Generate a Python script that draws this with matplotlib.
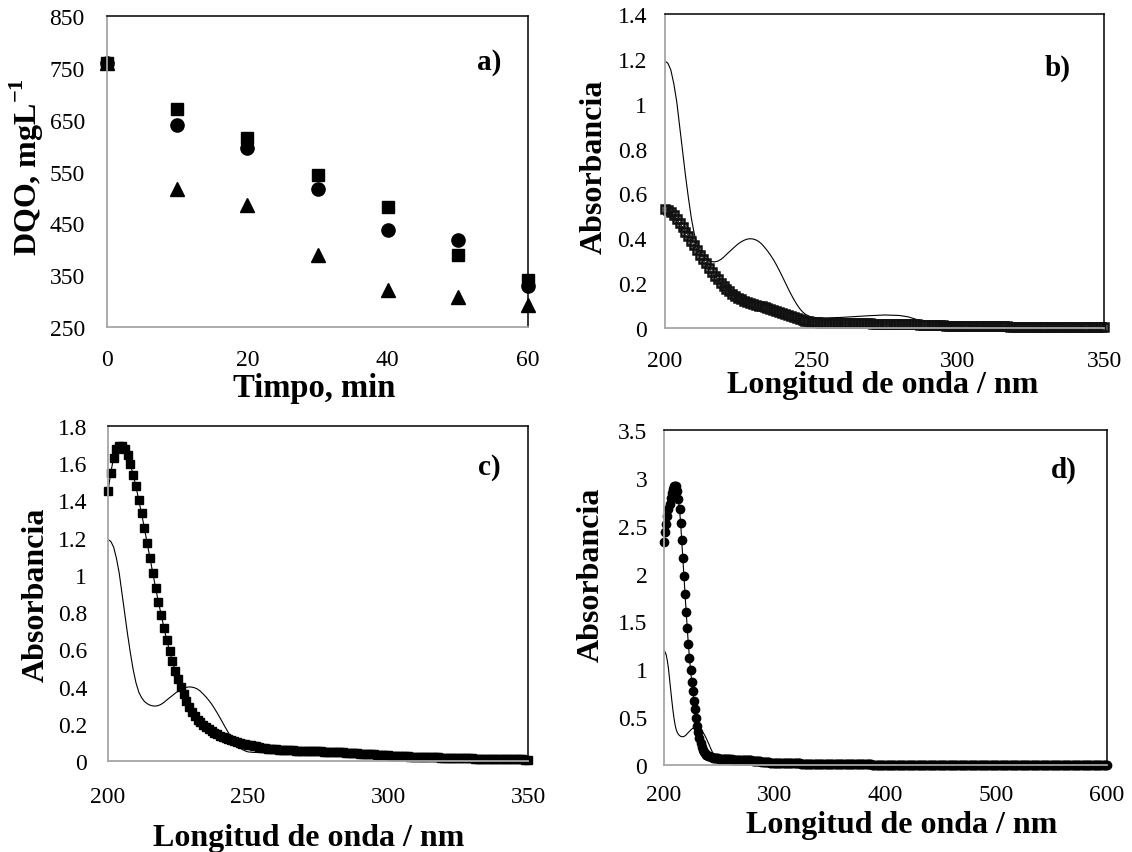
import numpy as np
import matplotlib.pyplot as plt

plt.rcParams['font.family'] = ['Liberation Serif', 'DejaVu Serif']
plt.rcParams['mathtext.fontset'] = 'custom'
plt.rcParams['mathtext.rm'] = 'Liberation Serif'
plt.rcParams['mathtext.bf'] = 'Liberation Serif:bold'

W, H = 1132, 853

# a) DQO frente al tiempo
tiempo = [0, 10, 20, 30, 40, 50, 60]
dqo_cuadrados = [760, 670, 614, 543, 481, 389, 340]
dqo_circulos = [760, 640, 595, 516, 437, 418, 329]
dqo_triangulos = [760, 516, 485, 389, 321, 308, 292]

# espectro inicial (linea fina, igual en b, c y d)
ref_nm = list(range(200, 251)) + [252, 255, 260, 265, 270, 275, 280, 283, 286,
                                  290, 295, 300, 310, 320, 330, 340, 350]
ref_abs = [1.19, 1.18, 1.15, 1.09, 1.01, 0.90, 0.79, 0.68, 0.58, 0.49,
           0.42, 0.37, 0.34, 0.32, 0.308, 0.30, 0.296, 0.295, 0.298, 0.305,
           0.315, 0.328, 0.34, 0.352, 0.364, 0.375, 0.384, 0.391, 0.396, 0.398,
           0.397, 0.393, 0.386, 0.375, 0.36, 0.344, 0.326, 0.306, 0.283, 0.258,
           0.232, 0.205, 0.178, 0.152, 0.128, 0.106, 0.087, 0.072, 0.061, 0.054,
           0.049,
           0.046, 0.045, 0.047, 0.051, 0.055, 0.058, 0.056, 0.05, 0.038,
           0.026, 0.018, 0.014, 0.01, 0.008, 0.006, 0.005, 0.004]

# b) cuadros abiertos, 200-350 nm
nm_bc = np.arange(200, 351)
abs_b = [0.53, 0.525, 0.516, 0.502, 0.486, 0.468, 0.449, 0.43, 0.41, 0.389,
         0.368, 0.347, 0.327, 0.308, 0.288, 0.268, 0.25, 0.233, 0.217, 0.202,
         0.188, 0.175, 0.163, 0.152, 0.143, 0.135, 0.128, 0.122, 0.117, 0.112,
         0.108, 0.104, 0.1, 0.097, 0.093, 0.089, 0.085, 0.081, 0.077, 0.072,
         0.067, 0.062, 0.057, 0.052, 0.047, 0.043, 0.039, 0.035, 0.032, 0.029,
         0.027, 0.026, 0.025, 0.024, 0.024, 0.023, 0.023, 0.023, 0.022, 0.022,
         0.022, 0.022, 0.022, 0.022, 0.021, 0.021, 0.021, 0.021, 0.021, 0.021,
         0.021, 0.02, 0.02, 0.02, 0.02, 0.02, 0.02, 0.019, 0.019, 0.019,
         0.019, 0.018, 0.018, 0.017, 0.017, 0.016, 0.016, 0.015, 0.015, 0.014,
         0.014, 0.013, 0.013, 0.012, 0.012, 0.012, 0.011, 0.011, 0.011, 0.01,
         0.01, 0.01, 0.01, 0.009, 0.009, 0.009, 0.009, 0.008, 0.008, 0.008,
         0.008, 0.008, 0.007, 0.007, 0.007, 0.007, 0.007, 0.007, 0.006, 0.006,
         0.006, 0.006, 0.006, 0.006, 0.006, 0.005, 0.005, 0.005, 0.005, 0.005,
         0.005, 0.005, 0.005, 0.005, 0.005, 0.004, 0.004, 0.004, 0.004, 0.004,
         0.004, 0.004, 0.004, 0.004, 0.004, 0.004, 0.004, 0.004, 0.004, 0.004,
         0.004]

# c) cuadros llenos, 200-350 nm
abs_c = [1.45, 1.55, 1.63, 1.675, 1.69, 1.69, 1.675, 1.645, 1.595, 1.535,
         1.475, 1.40, 1.33, 1.25, 1.17, 1.09, 1.01, 0.93, 0.855, 0.785,
         0.715, 0.65, 0.59, 0.535, 0.485, 0.44, 0.40, 0.36, 0.325, 0.292,
         0.263, 0.24, 0.222, 0.207, 0.193, 0.181, 0.17, 0.16, 0.151, 0.143,
         0.136, 0.129, 0.123, 0.117, 0.112, 0.107, 0.102, 0.098, 0.094, 0.09,
         0.087, 0.084, 0.081, 0.078, 0.075, 0.072, 0.07, 0.067, 0.065, 0.063,
         0.062, 0.061, 0.06, 0.059, 0.058, 0.058, 0.057, 0.056, 0.056, 0.055,
         0.055, 0.054, 0.054, 0.053, 0.053, 0.052, 0.052, 0.051, 0.051, 0.05,
         0.05, 0.049, 0.048, 0.047, 0.046, 0.045, 0.044, 0.043, 0.042, 0.041,
         0.04, 0.039, 0.038, 0.037, 0.036, 0.035, 0.034, 0.033, 0.032, 0.031,
         0.03, 0.029, 0.029, 0.028, 0.027, 0.026, 0.026, 0.025, 0.024, 0.024,
         0.023, 0.022, 0.022, 0.021, 0.021, 0.02, 0.02, 0.019, 0.019, 0.018,
         0.018, 0.017, 0.017, 0.016, 0.016, 0.016, 0.015, 0.015, 0.014, 0.014,
         0.014, 0.013, 0.013, 0.013, 0.012, 0.012, 0.012, 0.011, 0.011, 0.011,
         0.011, 0.01, 0.01, 0.01, 0.01, 0.009, 0.009, 0.009, 0.009, 0.008,
         0.008]

# d) circulos, 200-600 nm
nm_d = np.arange(200, 601)
abs_d = [2.33, 2.43, 2.52, 2.6, 2.67, 2.73, 2.79, 2.84, 2.88, 2.91,
         2.92, 2.91, 2.86, 2.78, 2.67, 2.53, 2.35, 2.16, 1.97, 1.79,
         1.6, 1.43, 1.26, 1.12, 0.99, 0.87, 0.77, 0.67, 0.58, 0.49,
         0.41, 0.34, 0.28, 0.23, 0.19, 0.16, 0.138, 0.121, 0.109, 0.101,
         0.095, 0.089, 0.084, 0.08, 0.077, 0.075, 0.073, 0.071, 0.069, 0.068,
         0.067, 0.066, 0.065, 0.064, 0.063, 0.062, 0.061, 0.06, 0.06, 0.059,
         0.058, 0.058, 0.057, 0.057, 0.056, 0.056, 0.055, 0.055, 0.054, 0.054,
         0.053, 0.053, 0.052, 0.052, 0.051, 0.051, 0.05, 0.05, 0.049, 0.048,
         0.047, 0.046, 0.045, 0.043, 0.042, 0.04, 0.039, 0.037, 0.036, 0.034,
         0.033, 0.031, 0.03, 0.029, 0.028, 0.027, 0.026, 0.025, 0.024, 0.023,
         0.022, 0.022, 0.021, 0.021, 0.02, 0.02, 0.02, 0.019, 0.019, 0.019,
         0.018, 0.018, 0.018, 0.018, 0.017, 0.017, 0.017, 0.017, 0.016, 0.016,
         0.016, 0.016, 0.016, 0.016, 0.015, 0.015, 0.015, 0.015, 0.015, 0.015,
         0.015, 0.015, 0.014, 0.014, 0.014, 0.014, 0.014, 0.014, 0.014, 0.014,
         0.014, 0.014, 0.013, 0.013, 0.013, 0.013, 0.013, 0.013, 0.013, 0.013,
         0.013, 0.013, 0.012, 0.012, 0.012, 0.012, 0.012, 0.012, 0.012, 0.012,
         0.012, 0.012, 0.012, 0.012, 0.012, 0.012, 0.012, 0.012, 0.012, 0.012,
         0.011, 0.011, 0.011, 0.011, 0.011, 0.011, 0.011, 0.011, 0.011, 0.011,
         0.01, 0.01, 0.01, 0.009, 0.008, 0.007, 0.006, 0.006, 0.005, 0.005,
         0.005, 0.005, 0.005, 0.005, 0.005, 0.005, 0.005, 0.005, 0.005, 0.005,
         0.005, 0.005, 0.005, 0.005, 0.005, 0.005, 0.005, 0.005, 0.005, 0.005,
         0.005, 0.005, 0.005, 0.005, 0.005, 0.005, 0.005, 0.005, 0.005, 0.005,
         0.005, 0.005, 0.005, 0.005, 0.005, 0.005, 0.005, 0.005, 0.005, 0.005,
         0.005, 0.005, 0.005, 0.005, 0.005, 0.005, 0.005, 0.005, 0.005, 0.005,
         0.005, 0.005, 0.005, 0.005, 0.005, 0.005, 0.005, 0.005, 0.005, 0.005,
         0.005, 0.005, 0.005, 0.005, 0.005, 0.005, 0.005, 0.005, 0.005, 0.005,
         0.005, 0.005, 0.005, 0.005, 0.005, 0.005, 0.005, 0.005, 0.005, 0.005,
         0.005, 0.005, 0.005, 0.005, 0.005, 0.005, 0.005, 0.005, 0.005, 0.005,
         0.004, 0.004, 0.004, 0.004, 0.004, 0.004, 0.004, 0.004, 0.004, 0.004,
         0.004, 0.004, 0.004, 0.004, 0.004, 0.004, 0.004, 0.004, 0.004, 0.004,
         0.004, 0.004, 0.004, 0.004, 0.004, 0.004, 0.004, 0.004, 0.004, 0.004,
         0.004, 0.004, 0.004, 0.004, 0.004, 0.004, 0.004, 0.004, 0.004, 0.004,
         0.004, 0.004, 0.004, 0.004, 0.004, 0.004, 0.004, 0.004, 0.004, 0.004,
         0.004, 0.004, 0.004, 0.004, 0.004, 0.004, 0.004, 0.004, 0.004, 0.004,
         0.004, 0.004, 0.004, 0.004, 0.004, 0.004, 0.004, 0.004, 0.004, 0.004,
         0.004, 0.004, 0.004, 0.004, 0.004, 0.004, 0.004, 0.004, 0.004, 0.004,
         0.004, 0.004, 0.004, 0.004, 0.004, 0.004, 0.004, 0.004, 0.004, 0.004,
         0.004, 0.004, 0.004, 0.004, 0.004, 0.004, 0.004, 0.004, 0.004, 0.004,
         0.004, 0.004, 0.004, 0.004, 0.004, 0.004, 0.004, 0.004, 0.004, 0.004,
         0.004, 0.004, 0.004, 0.004, 0.004, 0.004, 0.004, 0.004, 0.004, 0.004,
         0.004]

fig = plt.figure(figsize=(W / 100, H / 100), dpi=100)


def caja(left, top, right, bottom):
    # ejes en pixeles -> fraccion de figura
    return fig.add_axes([left / W, 1 - bottom / H, (right - left) / W, (bottom - top) / H])


def estilo(ax, xpad, ypad):
    for s in ['left', 'bottom']:
        ax.spines[s].set_color('#a6a6a6')
        ax.spines[s].set_linewidth(1.3)
    for s in ['top', 'right']:
        ax.spines[s].set_color('black')
        ax.spines[s].set_linewidth(1.1)
    ax.tick_params(axis='both', length=0, labelsize=17)
    ax.tick_params(axis='x', pad=xpad)
    ax.tick_params(axis='y', pad=ypad)


def texto(x, y, s, va='center', **kw):
    fig.text(x / W, 1 - y / H, s, ha='center', va=va, fontweight='bold', **kw)


def fmt(v):
    return ('%g' % v)


ax_a = caja(107, 17, 528, 328)
ax_b = caja(665, 15, 1104, 329)
ax_c = caja(108, 427, 528, 762)
ax_d = caja(664, 431, 1107, 766)

# a)
ax_a.plot(tiempo, dqo_triangulos, '^', color='black', ms=9.5, clip_on=False)
ax_a.plot(tiempo, dqo_circulos, 'o', color='black', ms=9.5, clip_on=False)
ax_a.plot(tiempo, dqo_cuadrados, 's', color='black', ms=9, clip_on=False)
ax_a.set_xlim(0, 60)
ax_a.set_ylim(250, 850)
ax_a.set_xticks([0, 20, 40, 60])
ax_a.set_yticks(range(250, 851, 100))
estilo(ax_a, 16, 16)

# b)
ax_b.plot(ref_nm, ref_abs, '-', color='black', lw=0.8)
ax_b.plot(nm_bc, abs_b, 's-', color='black', lw=0.6, ms=6, mfc='none',
          mec='#111111', mew=1.8, clip_on=False)
ax_b.set_xlim(200, 350)
ax_b.set_ylim(0, 1.4)
ax_b.set_xticks([200, 250, 300, 350])
yb = np.round(np.arange(0, 1.41, 0.2), 1)
ax_b.set_yticks(yb)
ax_b.set_yticklabels([fmt(v) for v in yb])
estilo(ax_b, 16, 13)

# c)
ax_c.plot(ref_nm, ref_abs, '-', color='black', lw=0.8)
ax_c.plot(nm_bc, abs_c, 's-', color='black', lw=0.8, ms=6, clip_on=False)
ax_c.set_xlim(200, 350)
ax_c.set_ylim(0, 1.8)
ax_c.set_xticks([200, 250, 300, 350])
yc = np.round(np.arange(0, 1.81, 0.2), 1)
ax_c.set_yticks(yc)
ax_c.set_yticklabels([fmt(v) for v in yc])
estilo(ax_c, 18, 15)

# d)
ax_d.plot(ref_nm, ref_abs, '-', color='black', lw=0.8)
ax_d.plot(nm_d, abs_d, 'o-', color='black', lw=0.8, ms=6, clip_on=False)
ax_d.set_xlim(200, 600)
ax_d.set_ylim(0, 3.5)
ax_d.set_xticks(range(200, 601, 100))
yd = np.arange(0, 3.51, 0.5)
ax_d.set_yticks(yd)
ax_d.set_yticklabels([fmt(v) for v in yd])
estilo(ax_d, 14, 12)

# etiquetas de ejes
texto(314, 397, 'Timpo, min', va='baseline', fontsize=23.5)
texto(27, 167, r'DQO, mgL$^{\mathbf{-1}}$', fontsize=23, rotation=90)
texto(883, 393, 'Longitud de onda / nm', va='baseline', fontsize=23)
texto(594, 167, 'Absorbancia', fontsize=23, rotation=90)
texto(309, 846, 'Longitud de onda / nm', va='baseline', fontsize=23)
texto(36, 595, 'Absorbancia', fontsize=23, rotation=90)
texto(902, 833, 'Longitud de onda / nm', va='baseline', fontsize=23)
texto(591, 575, 'Absorbancia', fontsize=23, rotation=90)

# letras de panel
texto(489, 63, 'a)', fontsize=21)
texto(1058, 68, 'b)', fontsize=21)
texto(489, 468, 'c)', fontsize=21)
texto(1064, 470, 'd)', fontsize=21)

fig.savefig('out.png', dpi=100)
